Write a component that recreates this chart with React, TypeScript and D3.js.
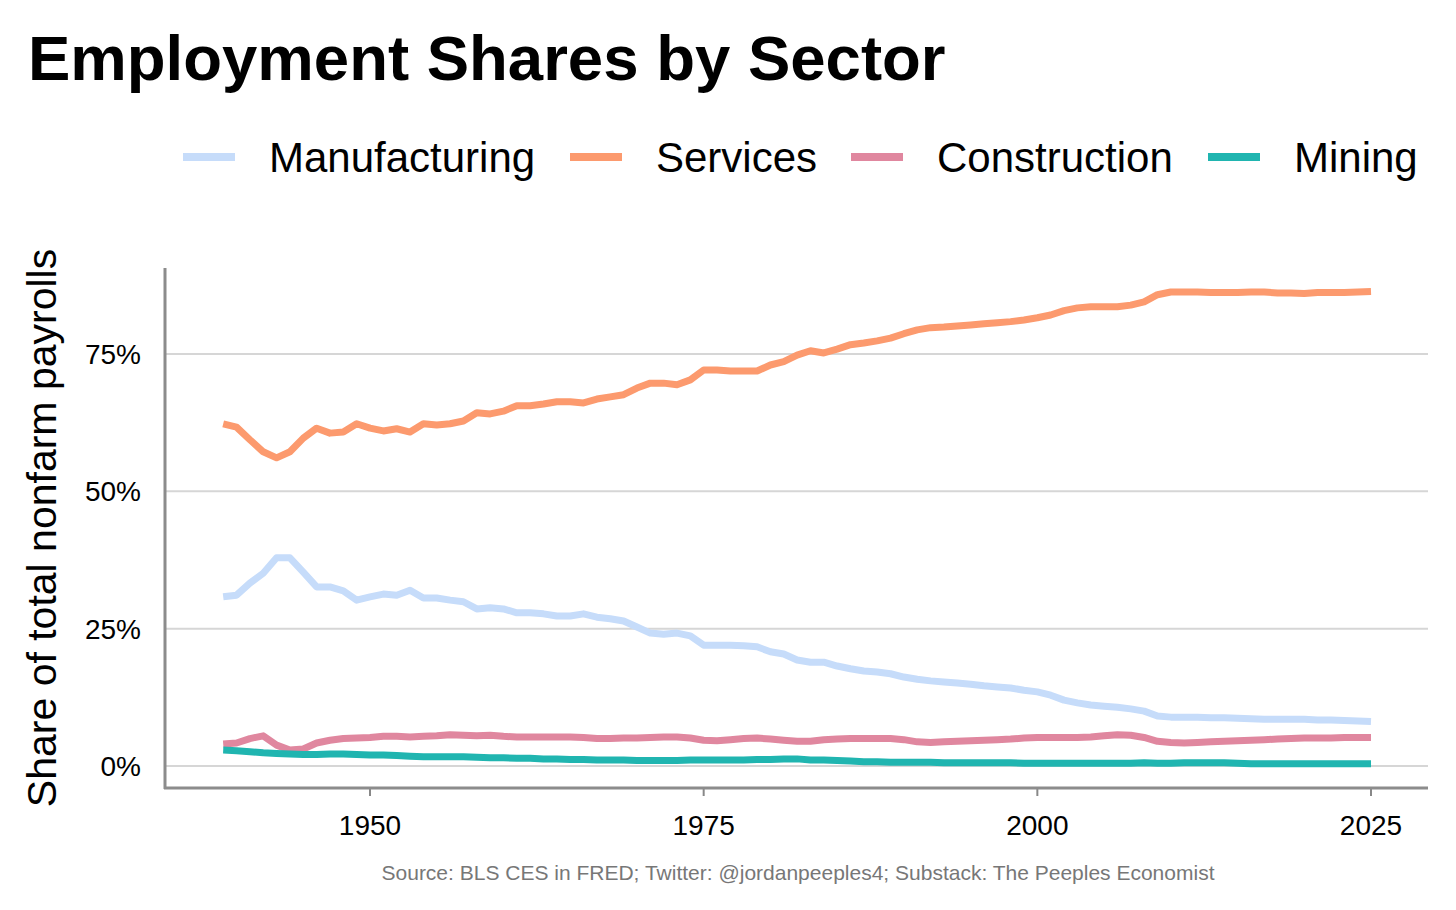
import React from "react";
import * as d3 from "d3";

const years = d3.range(1939, 2026);
const manufacturing = [30.8,31.1,33.3,35.1,37.9,37.9,35.3,32.6,32.6,31.9,30.2,30.8,31.3,31.1,32.0,30.6,30.6,30.2,29.9,28.6,28.8,28.6,27.9,27.9,27.7,27.3,27.3,27.7,27.1,26.8,26.4,25.3,24.2,24.0,24.2,23.7,22.0,22.0,22.0,21.9,21.7,20.8,20.4,19.3,18.9,18.9,18.2,17.7,17.3,17.1,16.8,16.2,15.8,15.5,15.3,15.1,14.9,14.6,14.4,14.2,13.8,13.5,12.9,12.0,11.5,11.1,10.9,10.7,10.4,10.0,9.1,8.9,8.9,8.9,8.8,8.8,8.7,8.6,8.5,8.5,8.5,8.5,8.4,8.4,8.3,8.2,8.1];
const services = [62.3,61.7,59.4,57.2,56.1,57.2,59.7,61.5,60.6,60.8,62.3,61.5,61.0,61.4,60.8,62.3,62.1,62.3,62.8,64.3,64.1,64.6,65.6,65.6,65.9,66.3,66.3,66.1,66.8,67.2,67.6,68.8,69.7,69.7,69.4,70.3,72.1,72.1,71.9,71.9,71.9,73.0,73.6,74.8,75.6,75.2,75.9,76.7,77.0,77.4,77.9,78.7,79.4,79.8,79.9,80.1,80.3,80.5,80.7,80.9,81.2,81.6,82.1,82.9,83.4,83.6,83.6,83.6,83.9,84.5,85.8,86.3,86.3,86.3,86.2,86.2,86.2,86.3,86.3,86.1,86.1,86.0,86.2,86.2,86.2,86.3,86.4];
const construction = [4.0,4.2,5.0,5.5,3.8,2.9,3.1,4.2,4.7,5.0,5.1,5.2,5.4,5.4,5.3,5.4,5.5,5.7,5.6,5.5,5.6,5.4,5.3,5.3,5.3,5.3,5.3,5.2,5.0,5.0,5.1,5.1,5.2,5.3,5.3,5.1,4.7,4.6,4.8,5.0,5.1,4.9,4.7,4.5,4.5,4.8,4.9,5.0,5.0,5.0,5.0,4.8,4.4,4.3,4.4,4.5,4.6,4.7,4.8,4.9,5.1,5.2,5.2,5.2,5.2,5.3,5.5,5.7,5.6,5.2,4.5,4.3,4.2,4.3,4.4,4.5,4.6,4.7,4.8,4.9,5.0,5.1,5.1,5.1,5.2,5.2,5.2];
const mining = [2.9,2.8,2.6,2.4,2.3,2.2,2.1,2.1,2.2,2.2,2.1,2.0,2.0,1.9,1.8,1.7,1.7,1.7,1.7,1.6,1.5,1.5,1.4,1.4,1.3,1.3,1.2,1.2,1.1,1.1,1.1,1.0,1.0,1.0,1.0,1.1,1.1,1.1,1.1,1.1,1.2,1.2,1.3,1.3,1.1,1.1,1.0,0.9,0.8,0.8,0.7,0.7,0.7,0.7,0.6,0.6,0.6,0.6,0.6,0.6,0.5,0.5,0.5,0.5,0.5,0.5,0.5,0.5,0.5,0.6,0.5,0.5,0.6,0.6,0.6,0.6,0.5,0.4,0.4,0.4,0.4,0.4,0.4,0.4,0.4,0.4,0.4];
const seriesNames = ["Manufacturing", "Services", "Construction", "Mining"];
const colors = ["#c6dcfa", "#fc9a6e", "#e0879f", "#20b5b0"];
const yTicks = [0, 25, 50, 75];
const xTicks = [1950, 1975, 2000, 2025];

export default function App() {
  const W = 1456, H = 910;
  const x = d3.scaleLinear().domain([1934.64, 2029.27]).range([165, 1428]);
  const y = d3.scaleLinear().domain([-4.0, 90.66]).range([788, 268]);
  const data = [manufacturing, services, construction, mining];
  const line = d3.line<number>().x((_, i) => x(years[i])).y((v) => y(v));
  const legendLineX = [183, 570, 851, 1208];
  const font = "Liberation Sans, Arial, sans-serif";
  return (
    <svg width={W} height={H} style={{ position: "absolute", left: 0, top: 0 }} fontFamily={font}>
      <rect width={W} height={H} fill="#fff" />
      <text x={28} y={80} fontSize={63.5} fontWeight="bold">Employment Shares by Sector</text>
      {seriesNames.map((n, i) => (
        <g key={n}>
          <line x1={legendLineX[i]} x2={legendLineX[i] + 52} y1={157} y2={157} stroke={colors[i]} strokeWidth={8} />
          <text x={legendLineX[i] + 86} y={172} fontSize={42}>{n}</text>
        </g>
      ))}
      {yTicks.map((t) => (
        <g key={t}>
          <line x1={165} x2={1428} y1={y(t)} y2={y(t)} stroke="#d6d6d6" strokeWidth={2} />
          <text x={141} y={y(t) + 10} fontSize={28} textAnchor="end">{t}%</text>
        </g>
      ))}
      {xTicks.map((t) => (
        <g key={t}>
          <line x1={x(t)} x2={x(t)} y1={788} y2={796} stroke="#888" strokeWidth={2} />
          <text x={x(t)} y={835} fontSize={28} textAnchor="middle">{t}</text>
        </g>
      ))}
      <line x1={165} x2={165} y1={268} y2={789} stroke="#8c8c8c" strokeWidth={3} />
      <line x1={164} x2={1428} y1={788} y2={788} stroke="#8c8c8c" strokeWidth={3} />
      {data.map((d, i) => (
        <path key={i} d={line(d) || ""} fill="none" stroke={colors[i]} strokeWidth={7} strokeLinejoin="round" />
      ))}
      <text transform="translate(56,528) rotate(-90)" fontSize={41} textAnchor="middle">Share of total nonfarm payrolls</text>
      <text x={798} y={880} fontSize={21} fill="#777" textAnchor="middle">Source: BLS CES in FRED; Twitter: @jordanpeeples4; Substack: The Peeples Economist</text>
    </svg>
  );
}
